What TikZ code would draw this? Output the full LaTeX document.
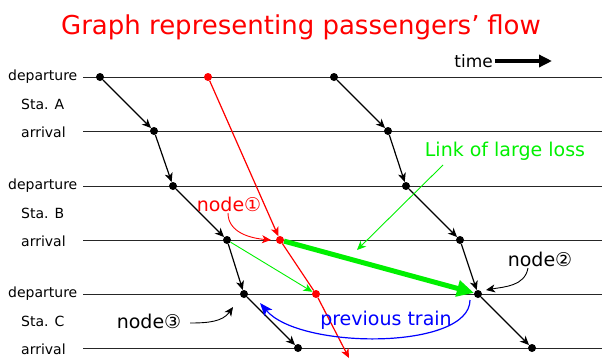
\documentclass[tikz,border=0pt]{standalone}
\usepackage{fontspec}
\setmainfont{DejaVu Sans}
\usetikzlibrary{arrows.meta}
\definecolor{pred}{RGB}{255,0,0}
\definecolor{pgreen}{RGB}{0,240,0}
\definecolor{pblue}{RGB}{0,0,255}
\tikzset{
  dot/.style={circle, fill=black, inner sep=0pt, minimum size=8pt},
  rdot/.style={dot, fill=pred},
  hline/.style={line width=0.9pt, black!85},
  lab/.style={font=\fontsize{14}{16}\selectfont, inner sep=0pt, anchor=west},
  anno/.style={font=\fontsize{19}{21}\selectfont, inner sep=2pt},
  tarrow/.style={line width=1.2pt, -{Stealth[length=9pt,width=8pt,inset=2.5pt]}},
  rarrow/.style={tarrow, draw=pred, fill=pred},
  thinarrow/.style={line width=0.9pt, -{Stealth[length=9pt,width=8pt,inset=2.5pt]}},
}
\begin{document}
\begin{tikzpicture}[x=1pt,y=-1pt]
\useasboundingbox (0,0) rectangle (602,359);
% title
\node[anchor=base, text=pred, font=\fontsize{26}{30}\selectfont, inner sep=0pt] (title) at (301,34) {Graph representing passengers’\hspace{0.3em}flow};
% time
\node[anchor=base east, font=\fontsize{17}{19}\selectfont, inner sep=0pt] (time) at (493,67) {time};
\coordinate (ts) at (495,61);
\coordinate (te) at (552,61);
\draw[line width=3.5pt, -{Triangle[length=13pt,width=12pt]}] (ts) -- (te);
% horizontal lines
\foreach \y/\n in {77/1,131/2,186/3,240/4,294/5,348/6}{
  \coordinate (hl\n) at (83,\y);
  \coordinate (hr\n) at (602,\y);
  \draw[hline] (hl\n) -- (hr\n);
}
% station labels
\node[lab] (dA) at (8,77) {departure};
\node[lab] (sA) at (21,104) {Sta. A};
\node[lab] (aA) at (21,132) {arrival};
\node[lab] (dB) at (8,186) {departure};
\node[lab] (sB) at (21,213) {Sta. B};
\node[lab] (aB) at (21,241) {arrival};
\node[lab] (dC) at (8,294) {departure};
\node[lab] (sC) at (21,321) {Sta. C};
\node[lab] (aC) at (21,349) {arrival};
% dots
\node[dot] (a1) at (100,77) {};
\node[dot] (a2) at (154,131) {};
\node[dot] (a3) at (173,186) {};
\node[dot] (a4) at (227,240) {};
\node[dot] (a5) at (244,294) {};
\node[dot] (a6) at (298,348) {};
\node[dot] (b1) at (334,77) {};
\node[dot] (b2) at (388,131) {};
\node[dot] (b3) at (406,186) {};
\node[dot] (b4) at (460,240) {};
\node[dot] (b5) at (478,294) {};
\node[dot] (b6) at (532,348) {};
\node[rdot] (r1) at (208,77) {};
\node[rdot] (r2) at (280,240) {};
\node[rdot] (r3) at (316,294) {};
\coordinate (rend) at (349,358);
% green links
\draw[pgreen, line width=5pt, -{Triangle[length=17pt,width=16pt]}] (r2) -- (b5);
\draw[pgreen, thinarrow] (a4) -- (r3);
% trains
\draw[tarrow] (a1) -- (a2);
\draw[tarrow] (a2) -- (a3);
\draw[tarrow] (a3) -- (a4);
\draw[tarrow] (a4) -- (a5);
\draw[tarrow] (a5) -- (a6);
\draw[tarrow] (b1) -- (b2);
\draw[tarrow] (b2) -- (b3);
\draw[tarrow] (b3) -- (b4);
\draw[tarrow] (b4) -- (b5);
\draw[tarrow] (b5) -- (b6);
\draw[rarrow] (r1) -- (r2);
\draw[pred, line width=1.2pt] (r2) -- (r3);
\draw[rarrow] (r3) -- (rend);
% annotations
\node[anno, text=pgreen] (loss) at (505,151) {Link of large loss};
\coordinate (ls) at (443,165);
\coordinate (le) at (357,250);
\draw[pgreen, thinarrow] (ls) -- (le);
\node[anno, text=pred] (n1) at (229,204) {node①};
\coordinate (n1s) at (228,213);
\coordinate (n1e) at (271,240);
\draw[pred, thinarrow] (n1s) to[out=-90,in=175] (n1e);
\node[anno] (n2) at (540,259) {node②};
\coordinate (n2s) at (528,268);
\coordinate (n2e) at (486,290);
\draw[black, thinarrow] (n2s) to[out=-100,in=10] (n2e);
\node[anno] (n3) at (149,321) {node③};
\coordinate (n3s) at (190,323);
\coordinate (n3e) at (233,307);
\draw[black, thinarrow] (n3s) to[out=0,in=-125] (n3e);
\node[anno, text=pblue] (prev) at (386,320) {previous train};
\coordinate (ps) at (470,300);
\coordinate (pe) at (260,303);
\draw[pblue, line width=1.2pt, -{Stealth[length=13pt,width=10pt,inset=3pt]}] (ps) .. controls (470,350) and (300,350) .. (pe);
\end{tikzpicture}
\end{document}
